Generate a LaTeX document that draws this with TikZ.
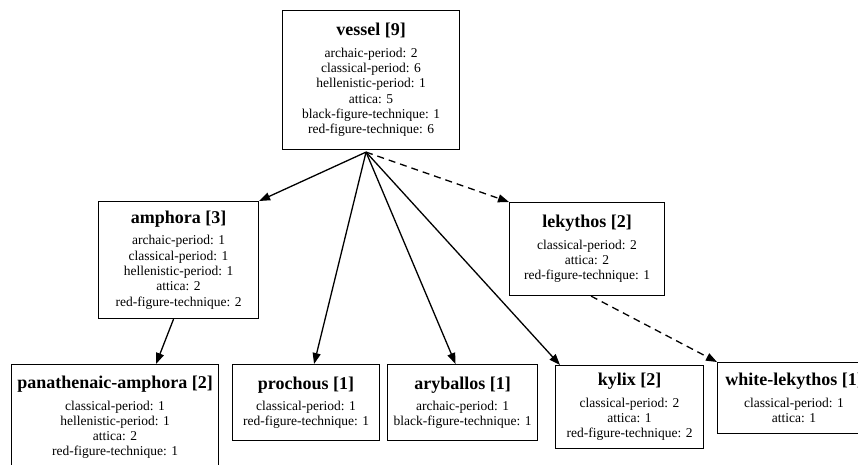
\documentclass[tikz,border=0pt]{standalone}
\usepackage{fontspec}
\setmainfont{Liberation Serif}
\usetikzlibrary{arrows.meta, positioning, calc}

\newcommand{\vname}[1]{{\fontsize{18}{20}\selectfont\bfseries #1}\\[6pt]}

\begin{document}
\begin{tikzpicture}[
    x=1pt, y=-1pt,
    box/.style={rectangle, draw, line width=1.1pt, inner sep=0pt, align=center, anchor=north west, font=\fontsize{13.5}{15.3}\selectfont},
    arrow/.style={-{Triangle[length=11pt,width=8pt]}, line width=1.3pt},
    dasharrow/.style={arrow, dash pattern=on 7pt off 5pt}
]
\clip (0,0) rectangle (858,465);

\node[box, minimum width=177pt, minimum height=139pt] (vessel) at (282,10)
    {\vname{vessel [9]}archaic-period: 2\\classical-period: 6\\hellenistic-period: 1\\attica: 5\\black-figure-technique: 1\\red-figure-technique: 6};
\node[box, minimum width=160pt, minimum height=117pt] (amphora) at (98,201)
    {\vname{amphora [3]}archaic-period: 1\\classical-period: 1\\hellenistic-period: 1\\attica: 2\\red-figure-technique: 2};
\node[box, minimum width=155pt, minimum height=93pt] (lekythos) at (509,202)
    {\vname{lekythos [2]}classical-period: 2\\attica: 2\\red-figure-technique: 1};
\node[box, minimum width=207pt, minimum height=106pt] (panathenaic) at (11,364)
    {\vname{panathenaic-amphora [2]}classical-period: 1\\hellenistic-period: 1\\attica: 2\\red-figure-technique: 1};
\node[box, minimum width=147pt, minimum height=76pt] (prochous) at (232,364)
    {\vname{prochous [1]}classical-period: 1\\red-figure-technique: 1};
\node[box, minimum width=150pt, minimum height=76pt] (aryballos) at (387,364)
    {\vname{aryballos [1]}archaic-period: 1\\black-figure-technique: 1};
\node[box, minimum width=148pt, minimum height=83pt] (kylix) at (555,365)
    {\vname{kylix [2]}classical-period: 2\\attica: 1\\red-figure-technique: 2};
\node[box, minimum width=153pt, minimum height=71pt] (white) at (717,362)
    {\vname{white-lekythos [1]}classical-period: 1\\attica: 1};

\coordinate (hub) at ([xshift=-5pt, yshift=-2pt]vessel.south);

\draw[arrow] (hub) -- (amphora.north east);
\draw[arrow] (hub) -- ([xshift=8pt]prochous.north);
\draw[arrow] (hub) -- ([xshift=-7pt]aryballos.north);
\draw[arrow] (hub) -- ([xshift=5pt]kylix.north west);
\draw[dasharrow] (hub) -- (lekythos.north west);
\draw[arrow] ([xshift=-5pt]amphora.south) -- ([xshift=41pt]panathenaic.north);
\draw[dasharrow] ([xshift=4pt]lekythos.south) -- (white.north west);

\end{tikzpicture}
\end{document}
